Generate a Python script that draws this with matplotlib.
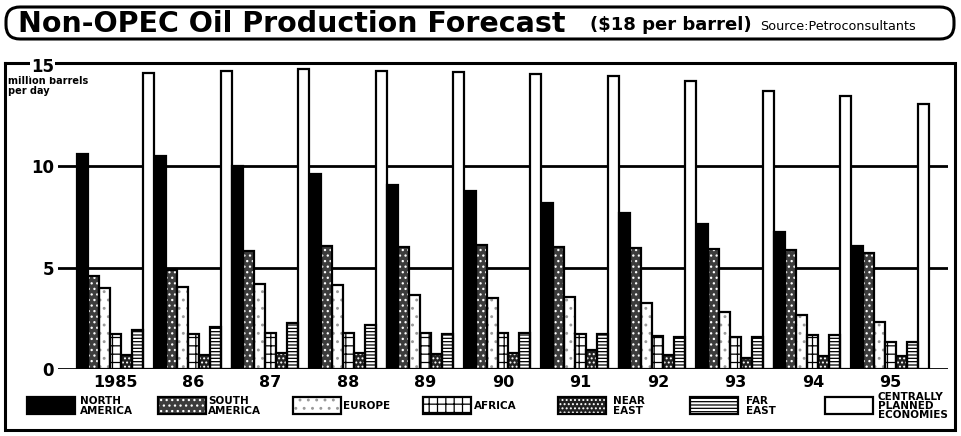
import matplotlib

matplotlib.use("Agg")
from matplotlib import pyplot as plt
from matplotlib.patches import Rectangle, FancyBboxPatch
import numpy as np

years = ["1985", "86", "87", "88", "89", "90", "91", "92", "93", "94", "95"]

# million barrels per day
north_america = [10.6, 10.5, 10.0, 9.6, 9.1, 8.8, 8.2, 7.7, 7.15, 6.75, 6.05]
south_america = [4.6, 4.9, 5.8, 6.05, 6.0, 6.1, 6.0, 5.95, 5.9, 5.85, 5.7]
europe = [4.0, 4.05, 4.2, 4.15, 3.65, 3.5, 3.55, 3.25, 2.8, 2.65, 2.3]
africa = [1.75, 1.75, 1.8, 1.8, 1.8, 1.8, 1.75, 1.65, 1.6, 1.7, 1.35]
near_east = [0.7, 0.7, 0.8, 0.8, 0.75, 0.8, 0.95, 0.7, 0.55, 0.65, 0.65]
far_east = [1.9, 2.05, 2.25, 2.15, 1.75, 1.8, 1.75, 1.6, 1.6, 1.7, 1.35]
centrally_planned = [14.6, 14.7, 14.8, 14.7, 14.65, 14.55, 14.45, 14.2, 13.7, 13.45, 13.1]

series = [north_america, south_america, europe, africa, near_east, far_east, centrally_planned]
labels = ["NORTH\nAMERICA", "SOUTH\nAMERICA", "EUROPE", "AFRICA", "NEAR\nEAST", "FAR\nEAST",
          "CENTRALLY\nPLANNED\nECONOMIES"]

# face colour, hatch, hatch colour
styles = [
    ("black", None, "black"),
    ("#3c3c3c", "...", "white"),
    ("white", "..", "#9a9a9a"),
    ("white", "++", "black"),
    ("#202020", "....", "white"),
    ("white", "-----", "black"),
    ("white", None, "black"),
]

W, H = 961, 436
plt.rcParams["hatch.linewidth"] = 0.9
FONT = "DejaVu Sans"

fig = plt.figure(figsize=(W / 100, H / 100), dpi=100)

# background layer in pixel coordinates for frames and free text
bg = fig.add_axes([0, 0, 1, 1])
bg.set_xlim(0, W)
bg.set_ylim(H, 0)
bg.axis("off")

bg.add_patch(FancyBboxPatch((6, 7), 948, 32, boxstyle="round,pad=0,rounding_size=14",
                            fill=False, ec="black", lw=2.2))
bg.text(18, 24, "Non-OPEC Oil Production Forecast", fontsize=20.5, fontweight="heavy",
        family=FONT, va="center", ha="left")
bg.text(590, 25, "($18 per barrel)", fontsize=13, fontweight="bold", family=FONT,
        va="center", ha="left")
bg.text(760, 26, "Source:Petroconsultants", fontsize=9.2, family=FONT, va="center", ha="left")

bg.plot([5, 955, 955, 5, 5], [63, 63, 430, 430, 63], color="black", lw=2.2,
        solid_joinstyle="miter")
bg.text(8, 86, "million barrels\nper day", fontsize=7, fontweight="bold", family=FONT,
        va="center", ha="left", linespacing=0.95)

# main chart, 0 at y=369 px and 15 at y=65 px
y0, y15 = 369, 65
ax = fig.add_axes([58 / W, (H - y0) / H, 890 / W, (y0 - y15) / H])
ax.patch.set_alpha(0)
for s in ax.spines.values():
    s.set_visible(False)

n = len(years)
bw = 11 / 77.5
x = np.arange(n)
for k, (vals, (face, hatch, hcol)) in enumerate(zip(series, styles)):
    xs = x + (k - 3) * bw
    ax.bar(xs, vals, bw, color=face, edgecolor=hcol, hatch=hatch, lw=0, zorder=2)
    ax.bar(xs, vals, bw, fill=False, edgecolor="black", lw=1.6, zorder=3)

for yv in [0, 5, 10]:
    ax.axhline(yv, color="black", lw=2, zorder=1)

ax.set_xlim(-0.742, n - 1 + 0.742)
ax.set_ylim(0, 15)
ax.set_yticks([0, 5, 10, 15], ["0", "5", "10", "15"], fontsize=12, fontweight="bold",
              family=FONT)
ax.set_xticks(x, years, fontsize=11.5, fontweight="bold", family=FONT)
ax.tick_params(length=0)
ax.tick_params(axis="y", pad=3)
ax.tick_params(axis="x", pad=4)
ax.get_yticklabels()[-1].set_bbox(dict(fc="white", ec="none", pad=1))

# legend row
swatches = [(27, 80), (158, 208), (293, 343), (423, 474), (558, 613), (690, 746), (825, 878)]
for (sx, lx), lab, (face, hatch, hcol) in zip(swatches, labels, styles):
    bg.add_patch(Rectangle((sx, 397), 48, 17, fc=face, ec=hcol, hatch=hatch, lw=0))
    bg.add_patch(Rectangle((sx, 397), 48, 17, fill=False, ec="black", lw=1.6))
    bg.text(lx, 406, lab, fontsize=7.5, fontweight="bold", family=FONT, va="center",
            ha="left", linespacing=0.9)

fig.savefig("out.png", dpi=100)
